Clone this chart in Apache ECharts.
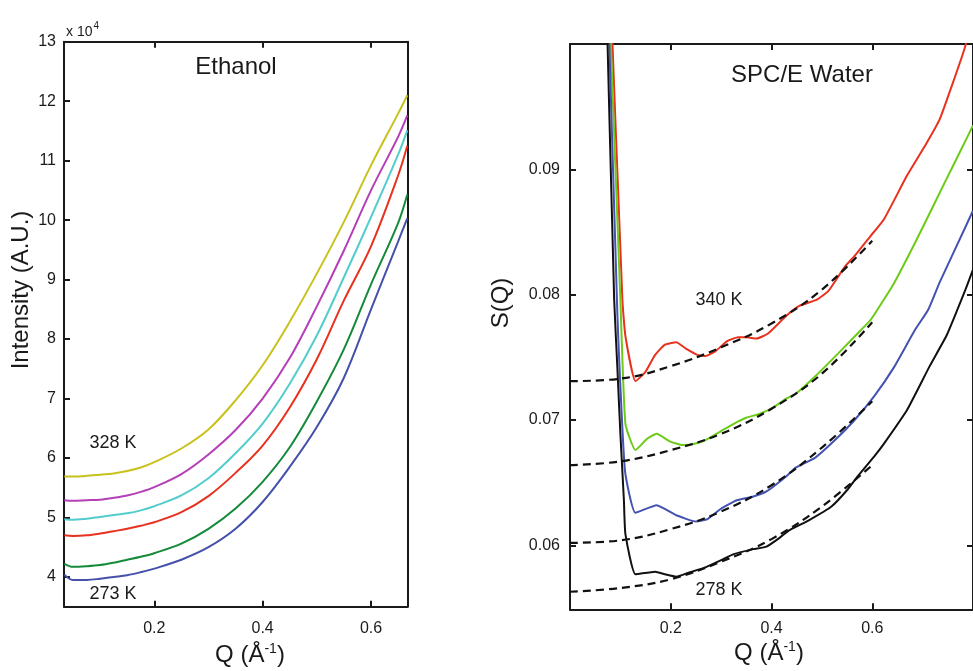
<!DOCTYPE html>
<html><head><meta charset="utf-8">
<script src="https://cdn.jsdelivr.net/npm/echarts@6/dist/echarts.min.js"></script>
<style>html,body{margin:0;padding:0;background:#fff}#c{width:973px;height:671px}</style>
</head><body><div id="c"></div>
<script>
// ---------- Ethanol panel (intensity in units of 10^4) ----------
const ethanolQ = [0.034, 0.05, 0.075, 0.1, 0.125, 0.15, 0.175, 0.2, 0.25, 0.3, 0.35, 0.4, 0.45, 0.5, 0.55, 0.6, 0.65, 0.667];
const eth328 = [5.69, 5.69, 5.70, 5.72, 5.74, 5.78, 5.84, 5.93, 6.16, 6.48, 6.97, 7.56, 8.29, 9.10, 9.97, 10.92, 11.79, 12.10];
const ethMag = [5.29, 5.28, 5.29, 5.30, 5.33, 5.37, 5.43, 5.51, 5.73, 6.06, 6.47, 7.00, 7.68, 8.55, 9.49, 10.50, 11.40, 11.76];
const ethCyan = [4.97, 4.96, 4.98, 5.01, 5.04, 5.07, 5.12, 5.19, 5.37, 5.66, 6.08, 6.58, 7.25, 8.06, 9.04, 10.05, 11.10, 11.51];
const ethRed = [4.70, 4.69, 4.70, 4.73, 4.77, 4.81, 4.86, 4.92, 5.09, 5.36, 5.75, 6.21, 6.85, 7.66, 8.65, 9.56, 10.75, 11.25];
const ethGreen = [4.22, 4.17, 4.18, 4.20, 4.24, 4.29, 4.34, 4.40, 4.56, 4.81, 5.15, 5.60, 6.18, 6.95, 7.83, 8.92, 9.95, 10.43];
const eth273 = [4.04, 3.95, 3.95, 3.97, 4.00, 4.03, 4.08, 4.14, 4.29, 4.50, 4.81, 5.26, 5.85, 6.52, 7.35, 8.50, 9.64, 10.03];
const ethYTicks = [4, 5, 6, 7, 8, 9, 10, 11, 12, 13];
const ethXTicks = [0.2, 0.4, 0.6];

// ---------- SPC/E water panel: [Q, S(Q)] ----------
const water340 = [[0.078,0.1067],[0.104,0.0796],[0.110,0.0767],[0.130,0.0731],[0.149,0.0738],[0.169,0.0752],[0.188,0.0760],[0.211,0.0762],[0.230,0.0757],[0.253,0.0752],[0.269,0.0751],[0.289,0.0755],[0.312,0.0763],[0.334,0.0766],[0.351,0.0766],[0.370,0.0765],[0.393,0.0769],[0.429,0.0783],[0.455,0.0791],[0.490,0.0796],[0.513,0.0803],[0.545,0.0822],[0.565,0.0831],[0.597,0.0847],[0.623,0.0860],[0.669,0.0895],[0.708,0.0921],[0.734,0.0940],[0.760,0.0969],[0.783,0.0996],[0.800,0.1020]];
const waterGreen = [[0.076,0.1054],[0.100,0.0796],[0.110,0.0697],[0.130,0.0676],[0.153,0.0685],[0.172,0.0689],[0.198,0.0683],[0.224,0.0680],[0.247,0.0681],[0.269,0.0684],[0.299,0.0691],[0.325,0.0697],[0.351,0.0702],[0.377,0.0705],[0.403,0.0710],[0.429,0.0717],[0.448,0.0721],[0.487,0.0735],[0.532,0.0753],[0.578,0.0772],[0.597,0.0780],[0.643,0.0809],[0.682,0.0839],[0.714,0.0865],[0.747,0.0892],[0.773,0.0913],[0.800,0.0935]];
const waterBlue = [[0.072,0.1086],[0.094,0.0785],[0.109,0.0660],[0.130,0.0626],[0.172,0.0632],[0.211,0.0624],[0.250,0.0619],[0.273,0.0621],[0.299,0.0629],[0.331,0.0636],[0.364,0.0639],[0.390,0.0643],[0.429,0.0655],[0.448,0.0662],[0.487,0.0670],[0.526,0.0684],[0.565,0.0700],[0.604,0.0719],[0.643,0.0742],[0.685,0.0772],[0.711,0.0788],[0.734,0.0810],[0.785,0.0854],[0.800,0.0867]];
const water278 = [[0.070,0.1072],[0.0877,0.0796],[0.094,0.0742],[0.100,0.0689],[0.107,0.0636],[0.110,0.0609],[0.130,0.0577],[0.169,0.0579],[0.188,0.0577],[0.211,0.0575],[0.234,0.0578],[0.266,0.0582],[0.299,0.0588],[0.325,0.0593],[0.364,0.0597],[0.390,0.0599],[0.416,0.0606],[0.435,0.0612],[0.474,0.0620],[0.519,0.0631],[0.552,0.0645],[0.571,0.0655],[0.604,0.0671],[0.623,0.0681],[0.669,0.0708],[0.714,0.0743],[0.747,0.0767],[0.769,0.0788],[0.785,0.0804],[0.800,0.0820]];
const fitQ = [0, 0.1, 0.2, 0.3, 0.4, 0.5, 0.6];
const fit340 = [0.0731, 0.0733, 0.0743, 0.0758, 0.0777, 0.0804, 0.0843];
const fitGreen = [0.0664, 0.0667, 0.0676, 0.0689, 0.0709, 0.0737, 0.0778];
const fitBlue = [0.0602, 0.0604, 0.0613, 0.0627, 0.0648, 0.0678, 0.0715];
const fit278 = [0.0563, 0.0566, 0.0573, 0.0587, 0.0605, 0.0631, 0.0664];
const waterYTicks = [0.06, 0.07, 0.08, 0.09];
const waterXTicks = [0.2, 0.4, 0.6];

const FONT = "'Liberation Sans', Arial, Helvetica, sans-serif";
const INK = '#1a1a1a';

function zip(xs, ys) { return xs.map((x, i) => [x, ys[i]]); }

function axisBase(ticks, showLabels, fmt, margin) {
  return {
    type: 'value',
    axisLine: { show: true, onZero: false, lineStyle: { color: INK, width: 2 } },
    axisTick: { show: ticks.length > 0, inside: true, length: 6, customValues: ticks, lineStyle: { color: INK, width: 2 } },
    axisLabel: { show: showLabels, customValues: ticks, formatter: fmt, margin: margin, fontSize: 16, color: INK, fontFamily: FONT },
    splitLine: { show: false }
  };
}

const ethLine = (data, color) => ({
  type: 'line', xAxisIndex: 0, yAxisIndex: 0, data: data, showSymbol: false, smooth: 0.35,
  lineStyle: { color: color, width: 2 }, itemStyle: { color: color }, silent: true
});
const watLine = (data, color) => ({
  type: 'line', xAxisIndex: 2, yAxisIndex: 2, data: data, showSymbol: false, smooth: 0.15,
  clip: true, lineStyle: { color: color, width: 2 }, itemStyle: { color: color }, silent: true
});
const fitLine = (data) => ({
  type: 'line', xAxisIndex: 2, yAxisIndex: 2, data: data, showSymbol: false, smooth: 0.4,
  clip: true, lineStyle: { color: '#111', width: 2.2, type: [8, 5] }, z: 5, silent: true
});

const f1 = v => v.toFixed(1);
const fInt = v => String(Math.round(v));
const f2 = v => v.toFixed(2);

const option = {
  animation: false,
  backgroundColor: '#fff',
  grid: [
    { left: 64, top: 41.7, width: 343.3, height: 565, show: false },
    { left: 570, top: 44, width: 410.6, height: 565.3, show: false }
  ],
  xAxis: [
    Object.assign(axisBase(ethXTicks, true, f1, 14), { gridIndex: 0, position: 'bottom', min: 0.0334, max: 0.667 }),
    Object.assign(axisBase(ethXTicks, false, f1, 8), { gridIndex: 0, position: 'top', min: 0.0334, max: 0.667 }),
    Object.assign(axisBase(waterXTicks, true, f1, 11), { gridIndex: 1, position: 'bottom', min: 0, max: 0.8 }),
    Object.assign(axisBase(waterXTicks, false, f1, 8), { gridIndex: 1, position: 'top', min: 0, max: 0.8 })
  ],
  yAxis: [
    Object.assign(axisBase(ethYTicks, true, fInt, 8), { gridIndex: 0, position: 'left', min: 3.5, max: 13 }),
    Object.assign(axisBase([], false, fInt, 8), { gridIndex: 0, position: 'right', min: 3.5, max: 13 }),
    Object.assign(axisBase(waterYTicks, true, f2, 10), { gridIndex: 1, position: 'left', min: 0.0549, max: 0.1 }),
    Object.assign(axisBase(waterYTicks, false, f2, 8), { gridIndex: 1, position: 'right', min: 0.0549, max: 0.1 })
  ],
  series: [
    ethLine(zip(ethanolQ, eth328), '#c9c11c'),
    ethLine(zip(ethanolQ, ethMag), '#b43fb8'),
    ethLine(zip(ethanolQ, ethCyan), '#52cccc'),
    ethLine(zip(ethanolQ, ethRed), '#e8311f'),
    ethLine(zip(ethanolQ, ethGreen), '#148a3a'),
    ethLine(zip(ethanolQ, eth273), '#4450aa'),
    watLine(water340, '#e8321e'),
    watLine(waterGreen, '#6ccb17'),
    watLine(waterBlue, '#4452b2'),
    watLine(water278, '#111111'),
    fitLine(zip(fitQ, fit340)),
    fitLine(zip(fitQ, fitGreen)),
    fitLine(zip(fitQ, fitBlue)),
    fitLine(zip(fitQ, fit278))
  ],
  graphic: [
    { type: 'text', x: 66, y: 30, style: { text: '{a|x 10}{b|4}', rich: { a: { fontSize: 14, fontFamily: FONT, fill: INK, verticalAlign: 'bottom' }, b: { fontSize: 10, fontFamily: FONT, fill: INK, verticalAlign: 'bottom', padding: [0, 0, 8, 1] } }, verticalAlign: 'middle', align: 'left' } },
    { type: 'text', x: 236, y: 67, style: { text: 'Ethanol', font: '24px ' + FONT, fill: INK, align: 'center', verticalAlign: 'middle' } },
    { type: 'text', x: 113, y: 443, style: { text: '328 K', font: '18px ' + FONT, fill: INK, align: 'center', verticalAlign: 'middle' } },
    { type: 'text', x: 113, y: 594, style: { text: '273 K', font: '18px ' + FONT, fill: INK, align: 'center', verticalAlign: 'middle' } },
    { type: 'text', x: 21, y: 290, rotation: Math.PI / 2, style: { text: 'Intensity (A.U.)', font: '24px ' + FONT, fill: INK, align: 'center', verticalAlign: 'middle' } },
    { type: 'text', x: 250, y: 655, style: { text: '{a|Q (Å}{b|-1}{a|)}', rich: { a: { fontSize: 24, fontFamily: FONT, fill: INK, verticalAlign: 'bottom' }, b: { fontSize: 14, fontFamily: FONT, fill: INK, verticalAlign: 'bottom', padding: [0, 0, 11, 0] } }, align: 'center', verticalAlign: 'middle' } },
    { type: 'text', x: 802, y: 75, style: { text: 'SPC/E Water', font: '24px ' + FONT, fill: INK, align: 'center', verticalAlign: 'middle' } },
    { type: 'text', x: 719, y: 300, style: { text: '340 K', font: '18px ' + FONT, fill: INK, align: 'center', verticalAlign: 'middle' } },
    { type: 'text', x: 719, y: 590, style: { text: '278 K', font: '18px ' + FONT, fill: INK, align: 'center', verticalAlign: 'middle' } },
    { type: 'text', x: 501, y: 303, rotation: Math.PI / 2, style: { text: 'S(Q)', font: '24px ' + FONT, fill: INK, align: 'center', verticalAlign: 'middle' } },
    { type: 'text', x: 769, y: 653, style: { text: '{a|Q (Å}{b|-1}{a|)}', rich: { a: { fontSize: 24, fontFamily: FONT, fill: INK, verticalAlign: 'bottom' }, b: { fontSize: 14, fontFamily: FONT, fill: INK, verticalAlign: 'bottom', padding: [0, 0, 11, 0] } }, align: 'center', verticalAlign: 'middle' } }
  ]
};

const chart = echarts.init(document.getElementById('c'), null, { renderer: 'canvas' });
chart.setOption(option);
</script>
</body></html>
